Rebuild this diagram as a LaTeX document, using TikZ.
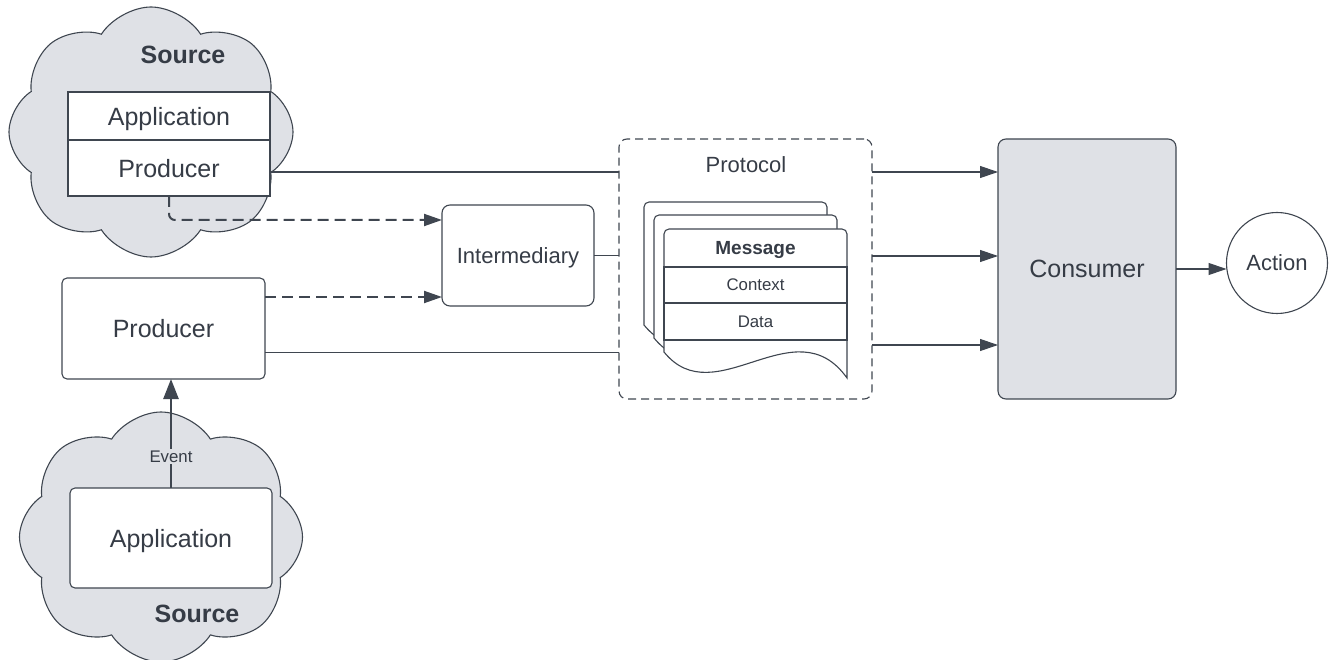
\documentclass[tikz,border=0pt]{standalone}
\usepackage{fontspec}
\setmainfont{Liberation Sans}
\usetikzlibrary{shapes.symbols,arrows.meta,calc}
\definecolor{ln}{HTML}{3F4650}
\definecolor{tx}{HTML}{363C46}
\definecolor{cg}{HTML}{DFE1E6}
\begin{document}
\begin{tikzpicture}[x=1pt,y=-1pt,
  every node/.style={text=tx, inner sep=0pt, outer sep=0pt, text depth=0pt},
  fbig/.style={font=\fontsize{25}{30}\selectfont},
  fmed/.style={font=\fontsize{22}{26}\selectfont},
  fmsg/.style={font=\fontsize{19}{23}\selectfont\bfseries},
  fsmall/.style={font=\fontsize{16.8}{20}\selectfont},
  fsrc/.style={font=\fontsize{25}{30}\selectfont\bfseries},
  srccloud/.style={cloud, cloud puffs=8, cloud puff arc=115, draw=ln, line width=1.1pt, fill=cg},
  box/.style={draw=ln, line width=1.1pt, fill=white},
  conn/.style={draw=ln, line width=1.1pt},
  arr/.style={conn, -{Triangle[length=18pt,width=12pt]}},
  darr/.style={draw=ln, line width=2pt, dash pattern=on 11pt off 6pt, -{Triangle[length=18pt,width=12pt]}},
  evarr/.style={draw=ln, line width=2.6pt, -{Triangle[length=20pt,width=15pt]}},
  sheet/.style={draw=ln, line width=1.1pt, fill=white},
]
\useasboundingbox (0,0) rectangle (1334,660);

% clouds
\node[srccloud, minimum width=284pt, minimum height=250pt] (cloud1) at (151,132) {};
\node[srccloud, minimum width=283pt, minimum height=250pt] (cloud2) at (161,537) {};
\node[fsrc] (src1) at (183,55) {Source};
\node[fsrc] (src2) at (197,614) {Source};

% top source boxes
\node[box, fbig, minimum width=202pt, minimum height=48pt] (app1) at (169,116) {Application};
\node[box, fbig, minimum width=202pt, minimum height=56pt] (prod1) at (169,168) {Producer};

% lower producer & application
\node[box, fbig, rounded corners=5pt, minimum width=203pt, minimum height=101pt] (prod2) at (163.5,328.5) {Producer};
\node[box, fbig, rounded corners=5pt, minimum width=202pt, minimum height=100pt] (app2) at (171,538) {Application};

% intermediary
\node[box, fmed, rounded corners=8pt, minimum width=152pt, minimum height=101pt] (inter) at (518,255.5) {Intermediary};

% protocol
\node[draw=ln, line width=1.1pt, dash pattern=on 8pt off 5pt, rounded corners=8pt, minimum width=253pt, minimum height=260pt] (proto) at (745.5,269) {};
\node[fmed] (protolbl) at (746,165) {Protocol};

% message sheets
\foreach \dx/\dy in {-20/-27,-10/-14,0/0}{
  \draw[sheet, shift={(\dx,\dy)}] (664,352) [rounded corners=5pt] -- (664,229) -- (847,229) [sharp corners] -- (847,378) .. controls (795,305) and (715,415) .. (664,352) -- cycle;
}
\node[fmsg, minimum width=183pt, minimum height=38pt] (msg) at (755.5,248) {Message};
\node[draw=ln, line width=1.1pt, fsmall, minimum width=183pt, minimum height=36pt] (ctx) at (755.5,285) {Context};
\node[draw=ln, line width=1.1pt, fsmall, minimum width=183pt, minimum height=37pt] (data) at (755.5,321.5) {Data};

% consumer & action
\node[box, fill=cg, fbig, rounded corners=8pt, minimum width=178pt, minimum height=260pt] (cons) at (1087,269) {Consumer};
\node[box, circle, fmed, minimum size=101pt] (act) at (1277,263) {Action};

% connectors left
\coordinate (p1) at ($(prod1.east)+(0,4)$);
\draw[conn] (p1) -- (p1 -| proto.west);
\coordinate (d1) at ($(inter.west)+(0,-35.5)$);
\draw[darr, rounded corners=6pt] (prod1.south) |- (d1);
\coordinate (d2) at ($(prod2.east)+(0,-31.5)$);
\draw[darr] (d2) -- (d2 -| inter.west);
\coordinate (p3) at ($(prod2.east)+(0,24)$);
\draw[conn] (p3) -- (p3 -| proto.west);
\draw[conn] (inter.east) -- (inter.east -| proto.west);

% connectors right
\coordinate (r1) at ($(proto.east)+(0,-97)$);
\coordinate (r2) at ($(proto.east)+(0,-13)$);
\coordinate (r3) at ($(proto.east)+(0,76)$);
\draw[arr] (r1) -- (r1 -| cons.west);
\draw[arr] (r2) -- (r2 -| cons.west);
\draw[arr] (r3) -- (r3 -| cons.west);
\draw[arr] (cons.east) -- (cons.east -| act.west);

% event
\draw[evarr] (app2.north) -- (app2.north |- prod2.south) node[pos=0.29, fill=cg, fsmall, inner sep=2pt] (ev) {Event};
\end{tikzpicture}
\end{document}
